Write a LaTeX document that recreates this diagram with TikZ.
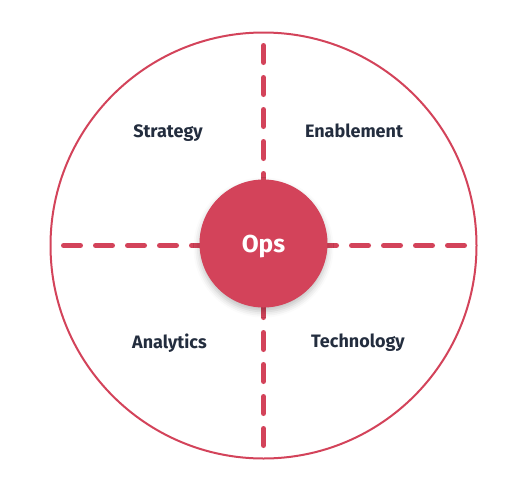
\documentclass[tikz,border=0pt]{standalone}
\usepackage{fontspec}
\setmainfont{Fira Sans}
\usepackage{tikz}
\usetikzlibrary{shadows.blur}
\definecolor{ops_red}{RGB}{211, 67, 90}
\definecolor{ops_ink}{RGB}{35, 45, 62}
\tikzstyle{ring}=[circle,draw=ops_red,line width=2pt,minimum size=426pt,inner sep=0pt]
\tikzstyle{hub}=[circle,fill=ops_red,inner sep=0pt,minimum size=128pt,text=white,
  text depth=0pt,font=\fontsize{24.5}{24.5}\selectfont\bfseries,
  blur shadow={shadow xshift=0pt,shadow yshift=-4pt,shadow opacity=25,shadow blur radius=6pt}]
\tikzstyle{arm}=[draw=ops_red,line width=5pt,line cap=round,dash pattern=on 17pt off 15pt]
\tikzstyle{area}=[text=ops_ink,text depth=0pt,font=\fontsize{18}{18}\selectfont\bfseries]

\begin{document}
\begin{tikzpicture}[x=1pt,y=-1pt]
    \useasboundingbox (0,0) rectangle (524,490);
    \node [style=ring] (ring) at (263.5,245.5) {};
    \coordinate (c) at (263.5,245.5);
    \coordinate (armL) at (63.5,245.5);
    \coordinate (armR) at (464.5,245.5);
    \coordinate (armT) at (263.5,45.5);
    \coordinate (armB) at (263.5,445.5);
    \draw [style=arm] (armL) to (c);
    \draw [style=arm] (armR) to (c);
    \draw [style=arm] (armT) to (c);
    \draw [style=arm] (armB) to (c);
    \node [style=hub] (ops) at (263.5,243.5) {Ops};
    \node [style=area] (strategy) at (168,131) {Strategy};
    \node [style=area] (enable) at (354,131) {Enablement};
    \node [style=area] (analytics) at (169.5,341) {Analytics};
    \node [style=area] (tech) at (358,341) {Technology};
\end{tikzpicture}
\end{document}
